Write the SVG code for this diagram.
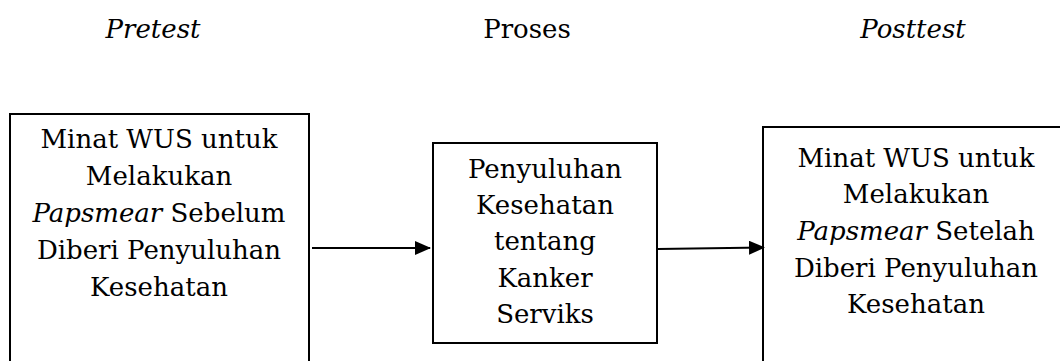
<svg xmlns="http://www.w3.org/2000/svg" width="1060" height="361" viewBox="0 0 1060 361">
<style>
text{font-family:"DejaVu Serif","Liberation Serif",serif;font-size:26px;fill:#000;text-anchor:middle}
.i{font-style:italic}
.box{fill:#fff;stroke:#000;stroke-width:2}
.conn{stroke:#000;stroke-width:2;fill:none}
</style>
<defs>
<marker id="ah" markerWidth="16" markerHeight="14" refX="15" refY="7" orient="auto" markerUnits="userSpaceOnUse">
<path d="M0,0 L16,7 L0,14 Z" fill="#000"/>
</marker>
</defs>
<rect width="1060" height="361" fill="#fff"/>
<g id="headers">
<text class="i" x="153" y="38">Pretest</text>
<text x="527" y="38">Proses</text>
<text class="i" x="913" y="38">Posttest</text>
</g>
<g id="pretest">
<rect class="box" x="10" y="114" width="299" height="260"/>
<text x="159" y="148">Minat WUS untuk</text>
<text x="159" y="185">Melakukan</text>
<text x="159" y="222"><tspan class="i">Papsmear</tspan> Sebelum</text>
<text x="159" y="259">Diberi Penyuluhan</text>
<text x="159" y="296">Kesehatan</text>
</g>
<g id="proses">
<rect class="box" x="433" y="143" width="224" height="200"/>
<text x="545" y="178">Penyuluhan</text>
<text x="545" y="214">Kesehatan</text>
<text x="545" y="250">tentang</text>
<text x="545" y="287">Kanker</text>
<text x="545" y="323">Serviks</text>
</g>
<g id="posttest">
<rect class="box" x="763" y="127" width="310" height="250"/>
<text x="916" y="167">Minat WUS untuk</text>
<text x="916" y="203">Melakukan</text>
<text x="916" y="240"><tspan class="i">Papsmear</tspan> Setelah</text>
<text x="916" y="277">Diberi Penyuluhan</text>
<text x="916" y="313">Kesehatan</text>
</g>
<g id="connectors">
<line class="conn" x1="312" y1="248" x2="430" y2="248" marker-end="url(#ah)"/>
<line class="conn" x1="658" y1="249" x2="764" y2="247.5" marker-end="url(#ah)"/>
</g>
</svg>
